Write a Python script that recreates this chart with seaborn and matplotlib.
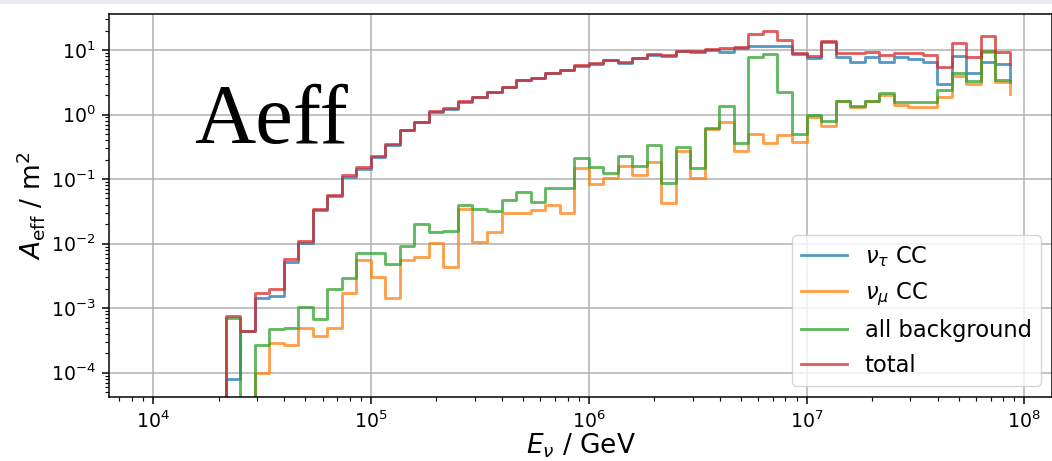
import numpy as np
import pandas as pd
import matplotlib
matplotlib.use("Agg")
import matplotlib.pyplot as plt
import seaborn as sns

# ---------------- data ----------------
# energy bins: 15 per decade; first filled bin index and number of edges
bins_per_decade = 15
first_bin = 5            # bins 0..4 (from 1e4) are empty
n_bins = 54              # bins 5..58, last edge = 10^(8 - 1/15)

labels = [r"$\nu_\tau$ CC", r"$\nu_\mu$ CC", "all background", "total"]

nutau_cc = [8.1e-5, 4.4e-4, 1.42e-3, 1.55e-3, 5.1e-3, 1.01e-2, 3.37e-2, 5.5e-2,
            0.108, 0.145, 0.221, 0.341, 0.568, 0.756, 1.11, 1.23, 1.58, 1.86,
            2.23, 2.65, 3.37, 3.68, 4.39, 4.83, 5.65, 6.06, 6.87, 6.37, 7.44,
            8.26, 8.2, 9.5, 9.4, 9.9, 9.3, 10.6, 11.5, 11.6, 11.6, 8.6, 7.4,
            13.2, 7.9, 6.6, 7.9, 6.4, 7.9, 7.2, 6.6, 2.97, 8.1, 4.46, 6.6, 6.1]
numu_cc = [0, 0, 1.0e-4, 2.86e-4, 2.7e-4, 5.0e-4, 3.7e-4, 5.0e-4,
           1.70e-3, 5.6e-3, 3.0e-3, 1.42e-3, 5.6e-3, 6.3e-3, 1.01e-2, 4.4e-3,
           3.4e-2, 1.06e-2, 1.50e-2, 2.95e-2, 3.0e-2, 3.3e-2, 3.9e-2, 3.0e-2,
           0.147, 8.4e-2, 0.103, 0.16, 0.116, 0.186, 4.2e-2, 0.275, 0.103, 0.60,
           0.776, 0.272, 0.50, 0.358, 0.48, 0.38, 0.93, 0.67, 1.6, 1.32, 1.6,
           2.0, 1.41, 1.29, 1.32, 1.89, 3.95, 2.97, 9.4, 3.16]
all_bkg = [7.0e-4, 0, 2.7e-4, 4.8e-4, 4.9e-4, 1.03e-3, 6.7e-4, 2.0e-3,
           2.97e-3, 7.1e-3, 7.1e-3, 4.8e-3, 9.2e-3, 2.0e-2, 1.51e-2, 1.59e-2,
           3.97e-2, 3.4e-2, 3.2e-2, 4.7e-2, 6.2e-2, 4.47e-2, 7.2e-2, 7.2e-2,
           0.21, 0.156, 0.126, 0.228, 0.161, 0.337, 8.8e-2, 0.31, 0.147, 0.627,
           1.37, 0.358, 7.7, 8.6, 2.21, 0.50, 1.0, 0.80, 1.62, 1.37, 1.64,
           2.13, 1.55, 1.58, 1.58, 2.4, 4.46, 3.31, 9.8, 3.43]
total = [7.7e-4, 4.4e-4, 1.74e-3, 2.0e-3, 5.7e-3, 1.11e-2, 3.44e-2, 5.7e-2,
         0.116, 0.152, 0.228, 0.346, 0.577, 0.776, 1.13, 1.25, 1.62, 1.89,
         2.26, 2.70, 3.43, 3.72, 4.46, 4.90, 5.86, 6.22, 7.0, 6.6, 7.6, 8.6,
         8.4, 9.8, 9.7, 10.4, 10.6, 11.0, 17.7, 19.7, 14.3, 8.9, 8.2, 13.9,
         8.9, 8.9, 9.4, 8.4, 8.9, 9.1, 8.4, 5.5, 12.7, 7.7, 16.5, 9.4]
# value each outline drops to at the last edge
end_values = [3.43, 2.1, 3.16, 6.1]

series = [nutau_cc, numu_cc, all_bkg, total]
colors = ["#1f77b4", "#ff7f0e", "#2ca02c", "#d62728"]

# ---------------- figure ----------------
s = 1.36
plt.rcParams.update({
    "font.family": ["DejaVu Sans"],
    "font.size": 10 * s,
    "axes.linewidth": 0.8 * s,
    "xtick.major.size": 3.5 * s, "ytick.major.size": 3.5 * s,
    "xtick.minor.size": 2 * s, "ytick.minor.size": 2 * s,
    "xtick.major.width": 0.8 * s, "ytick.major.width": 0.8 * s,
    "xtick.minor.width": 0.6 * s, "ytick.minor.width": 0.6 * s,
    "xtick.major.pad": 3.5 * s, "ytick.major.pad": 3.5 * s,
    "axes.labelpad": 4 * s,
})

W, H = 1052, 461
fig = plt.figure(figsize=(W / 100, H / 100), dpi=100)
fig.patch.set_facecolor("white")
left_px, right_px, top_px, bot_px = 109, 1052, 14, 397
ax = fig.add_axes([left_px / W, 1 - bot_px / H,
                   (right_px - left_px) / W, (bot_px - top_px) / H])

edges = 10.0 ** (4 + np.arange(first_bin, first_bin + n_bins + 1) / bins_per_decade)

for vals, end, lab, col in zip(series, end_values, labels, colors):
    xs = np.concatenate([[edges[0]], edges])
    ys = np.concatenate([[0.0], np.asarray(vals, float), [end]])
    df = pd.DataFrame({"E": xs, "A": ys})
    sns.lineplot(data=df, x="E", y="A", drawstyle="steps-post", estimator=None,
                 sort=False, color=col, alpha=0.75, linewidth=1.5 * s,
                 label=lab, ax=ax)

ax.set_xscale("log")
ax.set_yscale("log")
ax.set_xlim(10 ** 3.798, 10 ** 8.127)
ax.set_ylim(10 ** -4.376, 10 ** 1.557)
ax.grid(True, which="major", color="#b0b0b0", linewidth=0.8 * s)
ax.set_axisbelow(True)
ax.set_xlabel(r"$E_\nu$ / GeV", fontsize=19, labelpad=0)
ax.set_ylabel(r"$A_\mathrm{eff}$ / m$^2$", fontsize=19, labelpad=3)
ax.tick_params(which="both", direction="out")

ax.legend(loc="lower right", fontsize=12 * s, framealpha=0.8)

fig.text(194 / W, 1 - 143 / H, "Aeff", family="Liberation Serif",
         fontsize=61, va="baseline", ha="left", color="black")

# light slide border at the top
fig.patches.append(plt.Rectangle((0, 1 - 4 / H), 1, 4 / H, transform=fig.transFigure,
                                 facecolor="#e9edf2", edgecolor="none", zorder=10))

fig.savefig("out.png", dpi=100)
